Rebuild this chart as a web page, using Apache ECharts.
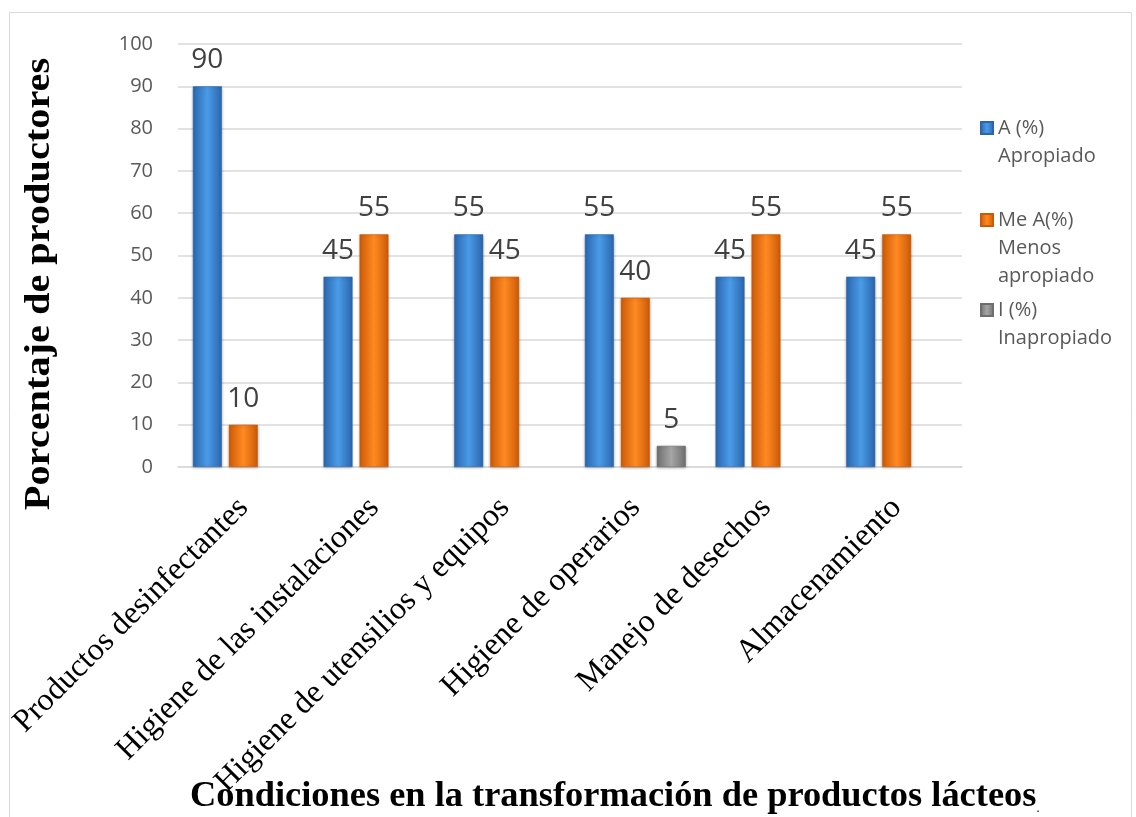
<!DOCTYPE html>
<html><head><meta charset="utf-8">
<script src="https://cdn.jsdelivr.net/npm/echarts@6/dist/echarts.min.js"></script>
<style>html,body{margin:0;padding:0;background:#fff}#c{width:1136px;height:817px}</style>
</head><body><div id="c"></div>
<script>
var categories = ['Productos desinfectantes','Higiene de las instalaciones','Higiene de utensilios y equipos','Higiene de operarios','Manejo de desechos','Almacenamiento'];
var seriesA = [90, 45, 55, 55, 45, 45];
var seriesMeA = [10, 55, 45, 40, 55, 55];
var seriesI = [null, null, null, 5, null, null];
var seriesNames = ['A (%)\nApropiado', 'Me A(%)\nMenos\napropiado', 'I (%)\nInapropiado'];
var yTicks = [0,10,20,30,40,50,60,70,80,90,100];
var yTitle = 'Porcentaje de productores';
var xTitle = 'Condiciones en la transformación de productos lácteos';

function grad(edge, mid) {
  return new echarts.graphic.LinearGradient(0,0,1,0,[
    {offset:0,color:edge},{offset:0.5,color:mid},{offset:1,color:edge}]);
}
var sans = '"Open Sans", "Liberation Sans", sans-serif';
var serif = '"Liberation Serif", "Times New Roman", serif';
function mkSeries(name, data, edge, mid) {
  return {
    name: name, type: 'bar', data: data, barWidth: 29, barGap: '24%',
    itemStyle: {color: grad(edge, mid), borderColor: edge, borderWidth: 0.5,
      shadowBlur: 3, shadowColor: 'rgba(0,0,0,0.25)', shadowOffsetY: 1},
    label: {show: true, position: 'top', distance: 12, fontSize: 28, color: '#404040', fontFamily: sans}
  };
}
var chart = echarts.init(document.getElementById('c'));
function legendItem(idx, top) {
  return {
    data: [seriesNames[idx]],
    orient: 'vertical', left: 980, top: top, padding: 0,
    itemWidth: 12, itemHeight: 12, itemGap: 0,
    icon: 'rect',
    formatter: function (name) {
      var n = name.split('\n').length;
      return new Array(n).join('\n') + name;
    },
    textStyle: {fontSize: 20, lineHeight: 28, color: '#595959', fontFamily: sans}
  };
}
chart.setOption({
  animation: false,
  grid: {left: 178, right: 174, top: 44, bottom: 350, containLabel: false},
  legend: [legendItem(0, 86), legendItem(1, 150), legendItem(2, 268)],
  xAxis: {
    type: 'category', data: categories,
    axisLine: {lineStyle: {color: '#d9d9d9', width: 1.5}},
    axisTick: {show: false},
    axisLabel: {rotate: 45, interval: 0, margin: 36, fontSize: 32, color: '#000', fontFamily: serif}
  },
  yAxis: {
    type: 'value', min: yTicks[0], max: yTicks[yTicks.length-1], interval: 10,
    axisLine: {show: false}, axisTick: {show: false},
    axisLabel: {margin: 25, fontSize: 20, color: '#595959', fontFamily: sans},
    splitLine: {lineStyle: {color: '#d9d9d9', width: 1.5}}
  },
  graphic: [
    {type: 'rect', shape: {x: 9.5, y: 12.5, width: 1122, height: 820}, style: {fill: 'none', stroke: '#d9d9d9', lineWidth: 1}},
    {type: 'text', x: 40, y: 284, rotation: Math.PI / 2, scaleX: 1.12, style: {
      text: yTitle, align: 'center', verticalAlign: 'middle',
      fontSize: 36, fontWeight: 'bold', fontFamily: serif, fill: '#000'}},
    {type: 'text', left: 190, top: 779, style: {
      text: '{a|' + xTitle + '}{b|.}',
      rich: {a: {fontSize: 36.4, fontWeight: 'bold', fontFamily: serif, fill: '#000'},
             b: {fontSize: 12, fontFamily: sans, fill: '#000', verticalAlign: 'bottom'}}
    }}
  ],
  series: [
    mkSeries(seriesNames[0], seriesA, '#2a66ad', '#4a9be8'),
    mkSeries(seriesNames[1], seriesMeA, '#cc5a06', '#ff8a22'),
    mkSeries(seriesNames[2], seriesI, '#6e6e6e', '#a6a6a6')
  ]
});
</script></body></html>
